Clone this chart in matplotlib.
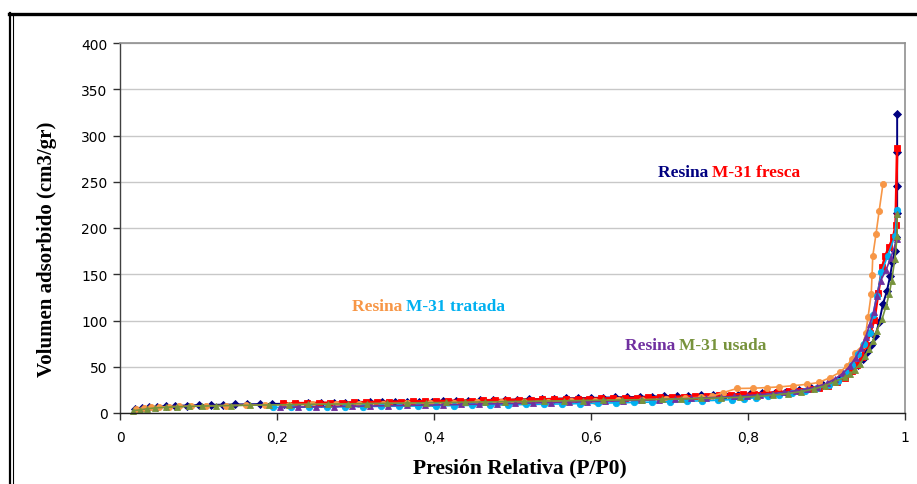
import matplotlib
matplotlib.use("Agg")
import matplotlib.pyplot as plt
from matplotlib.ticker import FixedLocator, FuncFormatter
from matplotlib.lines import Line2D

# --- Resina M-31 fresca: adsorption branch ---
fresca_ads_p = [0.019, 0.028, 0.037, 0.047, 0.058, 0.070, 0.085, 0.100, 0.116, 0.131,
                0.147, 0.162, 0.178, 0.193, 0.209, 0.225, 0.240, 0.256, 0.272, 0.287,
                0.303, 0.318, 0.334, 0.350, 0.365, 0.381, 0.397, 0.412, 0.428, 0.443,
                0.459, 0.475, 0.490, 0.506, 0.521, 0.537, 0.553, 0.568, 0.584, 0.600,
                0.615, 0.631, 0.646, 0.662, 0.678, 0.693, 0.709, 0.724, 0.740, 0.756,
                0.771, 0.787, 0.802, 0.818, 0.834, 0.849, 0.865, 0.880, 0.896, 0.906,
                0.916, 0.925, 0.933, 0.940, 0.946, 0.952, 0.957, 0.962, 0.967, 0.972,
                0.977, 0.981, 0.984, 0.987, 0.989, 0.990, 0.990, 0.990, 0.990]
fresca_ads_v = [4.5, 5.5, 6.3, 6.9, 7.3, 7.7, 8.1, 8.5, 8.8, 9.0,
                9.2, 9.4, 9.6, 9.8, 10.0, 10.2, 10.4, 10.6, 10.8, 11.0,
                11.2, 11.4, 11.6, 11.8, 12.0, 12.2, 12.4, 12.7, 13.0, 13.3,
                13.6, 13.9, 14.2, 14.5, 14.8, 15.1, 15.4, 15.7, 16.0, 16.3,
                16.6, 16.9, 17.2, 17.5, 17.8, 18.1, 18.4, 18.7, 19.0, 19.3,
                19.6, 20.0, 20.5, 21.2, 22.0, 23.2, 24.8, 27.0, 30.0, 33.0,
                36.5, 41.0, 46.0, 52.0, 58.0, 66.0, 73.0, 83.0, 98.0, 118.0,
                132.0, 148.0, 163.0, 175.0, 190.0, 216.0, 245.0, 282.0, 323.0]

# --- Resina M-31 fresca: desorption branch ---
fresca_des_p = [0.990, 0.988, 0.985, 0.980, 0.975, 0.971, 0.966, 0.961, 0.956, 0.950,
                0.945, 0.939, 0.932, 0.923, 0.913, 0.902, 0.891, 0.879, 0.866, 0.852,
                0.838, 0.823, 0.808, 0.793, 0.778, 0.763, 0.748, 0.733, 0.718, 0.703,
                0.688, 0.673, 0.658, 0.643, 0.628, 0.613, 0.598, 0.583, 0.568, 0.553,
                0.538, 0.523, 0.508, 0.493, 0.478, 0.463, 0.448, 0.433, 0.418, 0.403,
                0.388, 0.373, 0.358, 0.343, 0.328, 0.313, 0.298, 0.283, 0.268, 0.253,
                0.238, 0.223, 0.208]
fresca_des_v = [287.0, 203.0, 190.0, 180.0, 170.0, 158.0, 130.0, 101.0, 87.0, 73.0,
                61.0, 52.0, 45.0, 38.0, 33.0, 29.5, 27.0, 25.5, 24.3, 23.3,
                22.5, 21.7, 21.0, 20.4, 19.8, 19.2, 18.7, 18.2, 17.8, 17.4,
                17.1, 16.8, 16.5, 16.2, 15.9, 15.7, 15.5, 15.3, 15.1, 14.9,
                14.7, 14.5, 14.3, 14.1, 13.9, 13.7, 13.5, 13.3, 13.1, 12.9,
                12.7, 12.5, 12.3, 12.1, 11.9, 11.7, 11.5, 11.3, 11.1, 10.9,
                10.7, 10.5, 10.3]

# --- Resina M-31 tratada: adsorption branch ---
tratada_ads_p = [0.020, 0.030, 0.040, 0.050, 0.062, 0.075, 0.090, 0.110, 0.135, 0.160,
                 0.185, 0.215, 0.245, 0.275, 0.305, 0.335, 0.365, 0.395, 0.425, 0.455,
                 0.485, 0.515, 0.545, 0.575, 0.605, 0.635, 0.665, 0.695, 0.720, 0.740,
                 0.754, 0.768, 0.786, 0.807, 0.824, 0.840, 0.857, 0.875, 0.890, 0.904,
                 0.917, 0.926, 0.932, 0.936, 0.946, 0.950, 0.953, 0.957, 0.958, 0.959,
                 0.963, 0.967, 0.972]
tratada_ads_v = [4.0, 5.2, 6.0, 6.5, 6.9, 7.2, 7.5, 7.8, 8.1, 8.4,
                 8.7, 9.0, 9.3, 9.6, 9.9, 10.2, 10.5, 10.8, 11.1, 11.4,
                 11.7, 12.0, 12.4, 12.8, 13.2, 13.7, 14.3, 15.0, 16.0, 17.0,
                 18.0, 22.0, 26.5, 26.8, 27.5, 28.2, 29.5, 31.0, 33.0, 38.0,
                 44.0, 51.0, 58.0, 65.0, 73.0, 86.0, 104.0, 129.0, 149.0, 170.0,
                 193.0, 218.0, 248.0]

# --- Resina M-31 tratada: desorption branch ---
tratada_des_p = [0.990, 0.987, 0.978, 0.970, 0.964, 0.959, 0.955, 0.948, 0.940, 0.933,
                 0.925, 0.915, 0.903, 0.888, 0.872, 0.856, 0.840, 0.825, 0.810, 0.795,
                 0.780, 0.762, 0.742, 0.722, 0.700, 0.678, 0.655, 0.632, 0.609, 0.586,
                 0.563, 0.540, 0.517, 0.494, 0.471, 0.448, 0.425, 0.402, 0.379, 0.356,
                 0.333, 0.310, 0.287, 0.264, 0.241, 0.218, 0.195]
tratada_des_v = [219.0, 191.0, 170.0, 152.0, 126.0, 106.0, 87.0, 75.0, 64.0, 52.0,
                 43.0, 35.0, 30.0, 27.0, 24.0, 21.5, 19.5, 18.0, 16.5, 15.3,
                 14.5, 13.8, 13.2, 12.7, 12.2, 11.8, 11.4, 11.0, 10.6, 10.2,
                 9.8, 9.5, 9.2, 8.9, 8.6, 8.3, 8.0, 7.8, 7.6, 7.4,
                 7.2, 7.0, 6.8, 6.6, 6.4, 6.2, 6.0]

# --- Resina M-31 usada: desorption branch ---
usada_des_p = [0.990, 0.990, 0.982, 0.976, 0.969, 0.964, 0.960, 0.955, 0.950, 0.944,
               0.937, 0.930, 0.921, 0.911, 0.900, 0.888, 0.875, 0.861, 0.846, 0.831,
               0.815, 0.799, 0.782, 0.765, 0.746, 0.727, 0.707, 0.686, 0.664, 0.641,
               0.618, 0.595, 0.572, 0.549, 0.526, 0.503, 0.480, 0.457, 0.434, 0.411,
               0.388, 0.365, 0.342, 0.319, 0.296, 0.273, 0.250, 0.227, 0.204]
usada_des_v = [215.0, 188.0, 168.0, 155.0, 143.0, 127.0, 109.0, 96.0, 82.0, 70.0,
               60.0, 51.0, 43.0, 37.0, 32.0, 28.5, 26.0, 24.0, 22.3, 21.0,
               19.8, 18.8, 17.9, 17.1, 16.4, 15.7, 15.1, 14.5, 13.9, 13.3,
               12.8, 12.3, 11.8, 11.3, 10.8, 10.4, 10.0, 9.6, 9.2, 8.8,
               8.5, 8.2, 7.9, 7.6, 7.3, 7.0, 6.7, 6.4, 6.0]

# --- Resina M-31 usada: adsorption branch ---
usada_ads_p = [0.017, 0.026, 0.034, 0.045, 0.058, 0.072, 0.088, 0.105, 0.122, 0.142,
               0.165, 0.190, 0.215, 0.240, 0.265, 0.290, 0.315, 0.340, 0.365, 0.390,
               0.415, 0.440, 0.465, 0.490, 0.515, 0.540, 0.565, 0.590, 0.615, 0.640,
               0.665, 0.690, 0.715, 0.740, 0.765, 0.790, 0.812, 0.832, 0.851, 0.868,
               0.884, 0.898, 0.911, 0.924, 0.930, 0.936, 0.943, 0.949, 0.954, 0.959,
               0.964, 0.971, 0.976, 0.980, 0.983, 0.987, 0.990, 0.990]
usada_ads_v = [2.5, 3.5, 4.5, 5.5, 6.2, 6.7, 7.1, 7.5, 7.8, 8.1,
               8.4, 8.7, 9.0, 9.3, 9.6, 9.9, 10.2, 10.5, 10.8, 11.1,
               11.4, 11.7, 12.0, 12.3, 12.6, 12.9, 13.2, 13.5, 13.8, 14.1,
               14.4, 14.8, 15.2, 15.7, 16.3, 17.0, 18.0, 19.3, 21.0, 23.2,
               26.0, 29.5, 34.0, 39.0, 42.0, 47.0, 53.0, 62.0, 69.0, 78.0,
               89.0, 102.0, 116.0, 129.0, 143.0, 166.0, 191.0, 215.0]

x_ticks = [0, 0.2, 0.4, 0.6, 0.8, 1.0]
y_ticks = [0, 50, 100, 150, 200, 250, 300, 350, 400]

NAVY = "#000080"
RED = "#FF0000"
ORANGE = "#F79646"
CYAN = "#00B0F0"
PURPLE = "#7030A0"
OLIVE = "#77933C"

series = [
    (fresca_ads_p, fresca_ads_v, NAVY, "D", 3.8, 1.4),
    (fresca_des_p, fresca_des_v, RED, "s", 4.0, 1.9),
    (tratada_ads_p, tratada_ads_v, ORANGE, "o", 4.4, 1.2),
    (tratada_des_p, tratada_des_v, CYAN, "o", 4.6, 1.2),
    (usada_des_p, usada_des_v, PURPLE, "^", 4.6, 1.2),
    (usada_ads_p, usada_ads_v, OLIVE, "^", 4.6, 1.2),
]

W, H = 917, 485
fig = plt.figure(figsize=(W / 100, H / 100), dpi=100)

# plot area in pixel units
left, right, top, bottom = 120, 905, 44, 414
ax = fig.add_axes([left / W, (H - bottom) / H, (right - left) / W, (bottom - top) / H])

for p, v, c, m, ms, lw in series:
    ax.plot(p, v, color=c, marker=m, markersize=ms, linewidth=lw,
            markeredgewidth=0.6, markeredgecolor=c, clip_on=False)

ax.set_xlim(0, 1)
ax.set_ylim(0, 400)
ax.xaxis.set_major_locator(FixedLocator(x_ticks))
ax.yaxis.set_major_locator(FixedLocator(y_ticks))
ax.xaxis.set_major_formatter(FuncFormatter(lambda v, _: f"{v:g}".replace(".", ",")))
ax.yaxis.set_major_formatter(FuncFormatter(lambda v, _: f"{v:g}"))

ax.grid(axis="y", color="#C8C8C8", linewidth=1.0)
ax.set_axisbelow(True)
for s in ("top", "right"):
    ax.spines[s].set_color("#909090")
    ax.spines[s].set_linewidth(1.2)
ax.spines["left"].set_color("#404040")
ax.spines["bottom"].set_color("#202020")
for s in ("left", "bottom"):
    ax.spines[s].set_linewidth(1.0)

ax.tick_params(axis="both", direction="out", length=5, width=1.0, color="#303030",
               labelsize=10, labelcolor="#000000")
ax.tick_params(axis="y", pad=4)
ax.tick_params(axis="x", pad=7)

serif = ["Liberation Serif", "DejaVu Serif"]
ax.set_xlabel("Presión Relativa (P/P0)", fontfamily=serif, fontweight="bold",
              fontsize=15.5)
ax.set_ylabel("Volumen adsorbido (cm3/gr)", fontfamily=serif, fontweight="bold",
              fontsize=15)
# label anchors, in axes fractions
ax.xaxis.set_label_coords(0.509, -0.120)
ax.yaxis.set_label_coords(-0.080, 0.446)

# series annotations
def two_tone(x, y, first, second, c1, c2):
    t = ax.text(x, y, first + " ", color=c1, fontfamily=serif, fontweight="bold",
                fontsize=12.5, va="center", ha="left", transform=ax.transData)
    fig.canvas.draw()
    bb = t.get_window_extent()
    x2 = ax.transData.inverted().transform((bb.x1, 0))[0]
    ax.text(x2, y, second, color=c2, fontfamily=serif, fontweight="bold",
            fontsize=12.5, va="center", ha="left", transform=ax.transData)

two_tone(0.685, 261, "Resina", "M-31 fresca", NAVY, RED)
two_tone(0.295, 116, "Resina", "M-31 tratada", ORANGE, CYAN)
two_tone(0.643, 74, "Resina", "M-31 usada", PURPLE, OLIVE)

# outer chart frame
fig.add_artist(Line2D([10 / W, 10 / W], [0, (H - 14) / H], color="black", linewidth=1.6))
fig.add_artist(Line2D([12.8 / W, 12.8 / W], [0, (H - 16) / H], color="black", linewidth=0.8))
fig.add_artist(Line2D([9 / W, 1.0], [(H - 15) / H, (H - 15) / H], color="black", linewidth=2.4))

fig.savefig("out.png", dpi=100)
